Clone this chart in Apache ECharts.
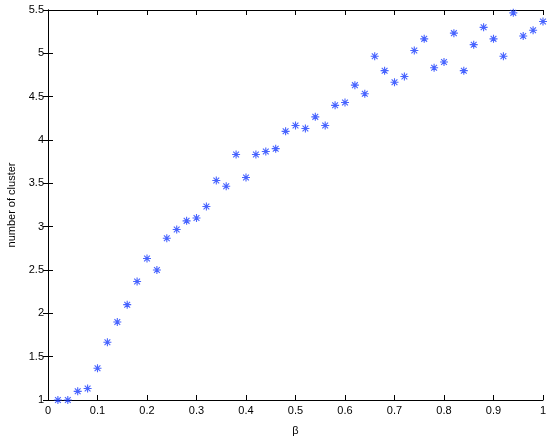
<!DOCTYPE html>
<html>
<head>
<meta charset="utf-8">
<script src="https://cdn.jsdelivr.net/npm/echarts@6/dist/echarts.min.js"></script>
<style>html,body{margin:0;padding:0;background:#fff}#c{width:554px;height:441px}</style>
</head>
<body>
<div id="c"></div>
<script>
var betaValues = [0.02,0.04,0.06,0.08,0.10,0.12,0.14,0.16,0.18,0.20,0.22,0.24,0.26,0.28,0.30,0.32,0.34,0.36,0.38,0.40,0.42,0.44,0.46,0.48,0.50,0.52,0.54,0.56,0.58,0.60,0.62,0.64,0.66,0.68,0.70,0.72,0.74,0.76,0.78,0.80,0.82,0.84,0.86,0.88,0.90,0.92,0.94,0.96,0.98,1.00];
var clusterCounts = [1.0,1.0,1.1,1.133,1.367,1.667,1.9,2.1,2.367,2.633,2.5,2.867,2.967,3.067,3.1,3.233,3.533,3.467,3.833,3.567,3.833,3.867,3.9,4.1,4.167,4.133,4.267,4.167,4.4,4.433,4.633,4.533,4.967,4.8,4.667,4.733,5.033,5.167,4.833,4.9,5.233,4.8,5.1,5.3,5.167,4.967,5.467,5.2,5.267,5.367];
var xTickLabels = ['0','0.1','0.2','0.3','0.4','0.5','0.6','0.7','0.8','0.9','1'];
var yTickLabels = ['1','1.5','2','2.5','3','3.5','4','4.5','5','5.5'];

var pts = betaValues.map(function(b,i){return [b, clusterCounts[i]];});
var font = 'Liberation Sans, Arial, Helvetica, sans-serif';
var axisLine = {show:true, lineStyle:{color:'#000', width:1}};
var tick = {show:true, inside:true, length:5, lineStyle:{color:'#000'}};
var chart = echarts.init(document.getElementById('c'), null, {renderer:'canvas'});
chart.setOption({
  animation:false,
  backgroundColor:'#fff',
  grid:{left:48, right:11, top:10, bottom:41, containLabel:false, outerBoundsMode:'none'},
  xAxis:[{
    type:'value', min:0, max:1, interval:0.1,
    axisLine:axisLine, axisTick:tick, splitLine:{show:false},
    axisLabel:{color:'#000', fontFamily:font, fontSize:11, margin:5,
      formatter:function(v){var i=Math.round(v*10);return xTickLabels[i];}},
    name:'β', nameLocation:'middle', nameGap:25,
    nameTextStyle:{color:'#000', fontFamily:font, fontSize:11}
  },{
    type:'value', position:'top', min:0, max:1, interval:0.1,
    axisLine:axisLine, axisTick:tick, axisLabel:{show:false}, splitLine:{show:false}
  }],
  yAxis:[{
    type:'value', min:1, max:5.5, interval:0.5,
    axisLine:axisLine, axisTick:tick, splitLine:{show:false},
    axisLabel:{color:'#000', fontFamily:font, fontSize:11, margin:4,
      formatter:function(v){var i=Math.round((v-1)*2);return yTickLabels[i];}},
    name:'number of cluster', nameLocation:'middle', nameGap:27,
    nameTextStyle:{color:'#000', fontFamily:font, fontSize:11}
  },{
    type:'value', position:'right', min:1, max:5.5, interval:0.5,
    axisLine:axisLine, axisTick:tick, axisLabel:{show:false}, splitLine:{show:false}
  }],
  series:[{
    type:'scatter',
    data:pts,
    symbol:'path://M0,-5L0,5M-5,0L5,0M-3.6,-3.6L3.6,3.6M-3.6,3.6L3.6,-3.6',
    symbolSize:8,
    itemStyle:{color:'rgba(0,0,0,0)', borderColor:'#1a3dff', borderWidth:1.1},
    clip:false
  }]
});
</script>
</body>
</html>
